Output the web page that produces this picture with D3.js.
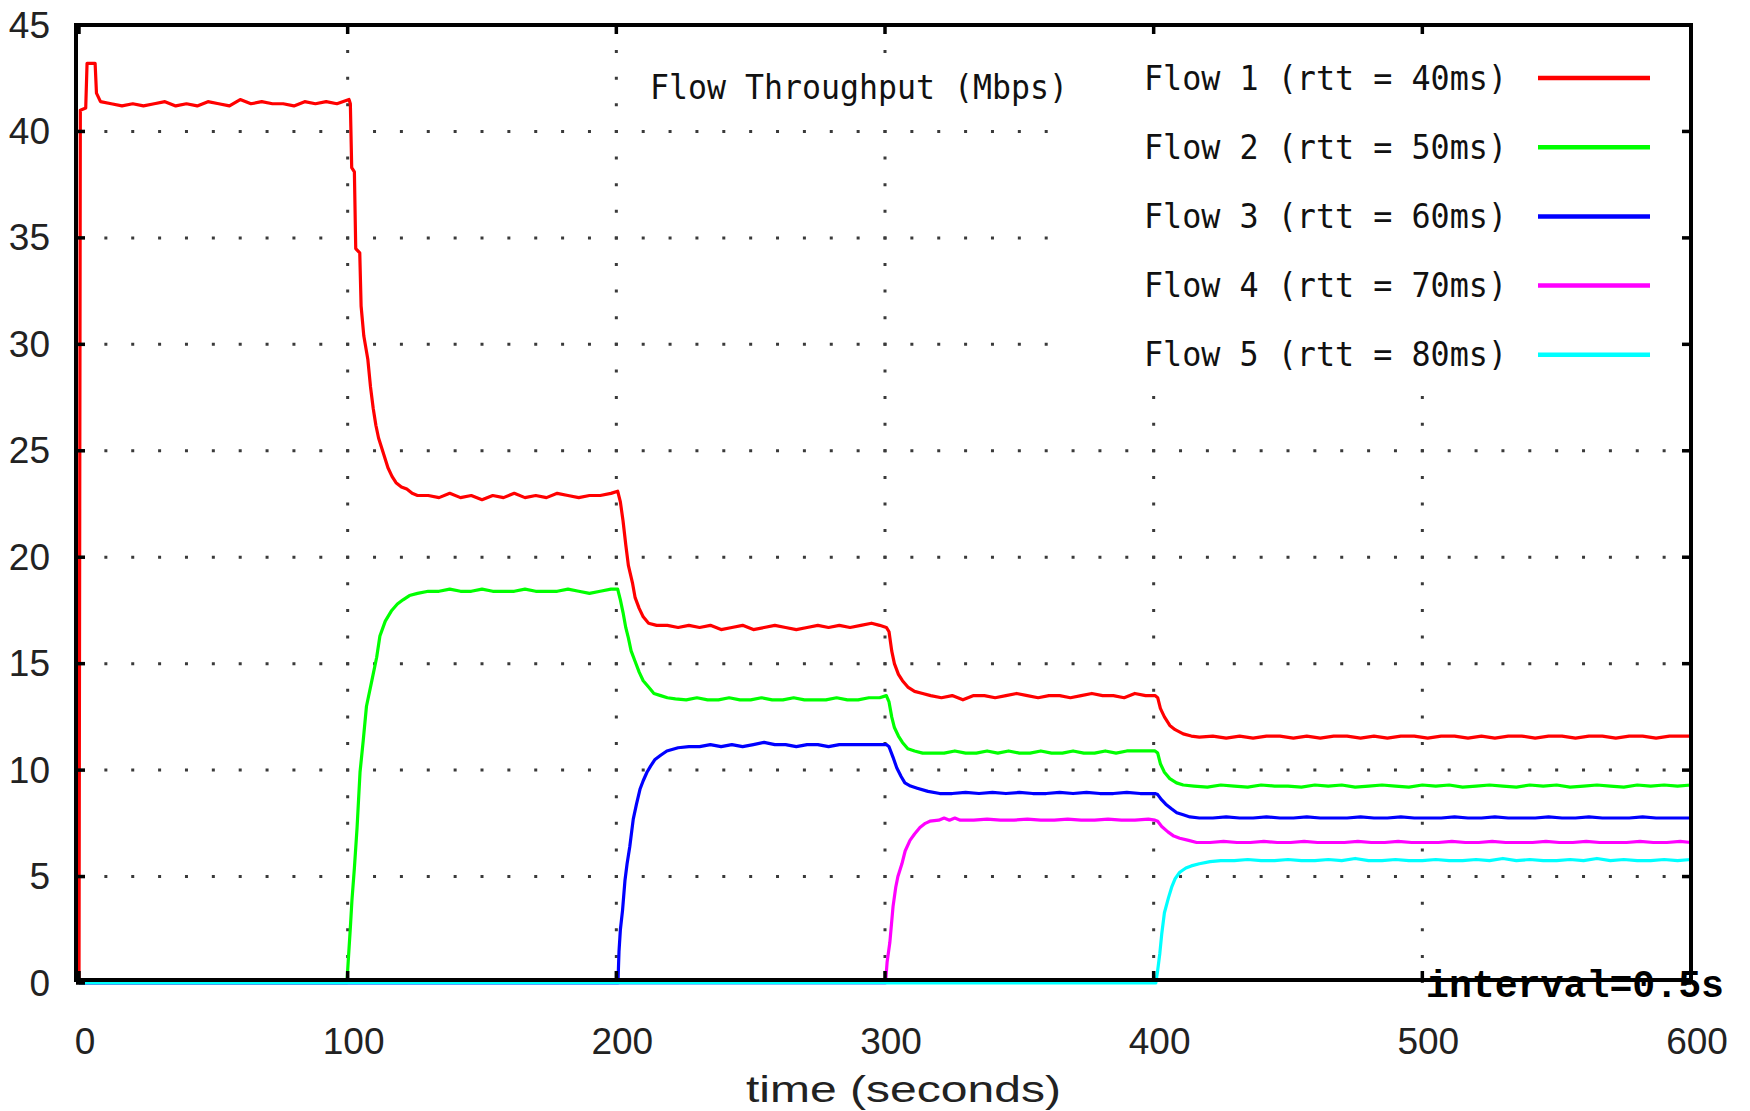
<!DOCTYPE html>
<html>
<head>
<meta charset="utf-8">
<script src="https://cdn.jsdelivr.net/npm/d3@7"></script>
<style>
  html, body { margin: 0; padding: 0; background: #fff; }
  svg { display: block; }
</style>
</head>
<body>
<svg id="chart" width="1750" height="1111"></svg>
<script>
// Per-flow throughput samples: [time (s), throughput (Mbps)]
const flow1 = [
  [0,0],[0.5,41.0],[2.5,41.1],[3,43.2],[6,43.2],[6.5,41.8],[8,41.4],
  [12,41.3],[16,41.2],[20,41.3],[24,41.2],[28,41.3],[32,41.4],[36,41.2],[40,41.3],[44,41.2],[48,41.4],
  [52,41.3],[56,41.2],[60,41.5],[64,41.3],[68,41.4],[72,41.3],[76,41.3],[80,41.2],[84,41.4],[88,41.3],
  [92,41.4],[96,41.3],[100.5,41.5],
  [101,41.3],[101.5,38.3],[102.5,38.1],[103,34.5],[104.5,34.3],[105,31.8],[106,30.4],[107.5,29.3],
  [108.5,28.0],[109.5,27.0],[110.5,26.2],[111.5,25.6],[112.5,25.2],[113.5,24.8],[115,24.2],[116.5,23.8],
  [118,23.5],[120,23.3],[122,23.2],[124,23.0],[126,22.9],
  [130,22.9],[134,22.8],[138,23.0],[142,22.8],[146,22.9],[150,22.7],[154,22.9],[158,22.8],[162,23.0],
  [166,22.8],[170,22.9],[174,22.8],[178,23.0],[182,22.9],[186,22.8],[190,22.9],[194,22.9],[198,23.0],[200.5,23.1],
  [201.5,22.6],[202.5,21.7],[203.5,20.6],[204.5,19.6],[206,18.8],[207,18.1],[208.5,17.6],[210,17.2],
  [212,16.9],[215,16.8],
  [219,16.8],[223,16.7],[227,16.8],[231,16.7],[235,16.8],[239,16.6],[243,16.7],[247,16.8],[251,16.6],
  [255,16.7],[259,16.8],[263,16.7],[267,16.6],[271,16.7],[275,16.8],[279,16.7],[283,16.8],[287,16.7],
  [291,16.8],[295,16.9],[298,16.8],[300.5,16.7],
  [301.5,16.5],[302.5,15.6],[303.5,15.0],[305,14.5],[306.5,14.2],[308.5,13.9],[311,13.7],[314,13.6],[317,13.5],
  [321,13.4],[325,13.5],[329,13.3],[333,13.5],[337,13.5],[341,13.4],[345,13.5],[349,13.6],[353,13.5],
  [357,13.4],[361,13.5],[365,13.5],[369,13.4],[373,13.5],[377,13.6],[381,13.5],[385,13.5],[389,13.4],
  [393,13.6],[397,13.5],[400.5,13.5],
  [401.5,13.4],[402.5,12.9],[404,12.5],[406,12.1],[408,11.9],[411,11.7],[414,11.6],[417,11.55],
  [422,11.6],[427,11.5],[432,11.6],[437,11.5],[442,11.6],[447,11.6],[452,11.5],[457,11.6],[462,11.5],
  [467,11.6],[472,11.6],[477,11.5],[482,11.6],[487,11.5],[492,11.6],[497,11.6],[502,11.5],[507,11.6],
  [512,11.6],[517,11.5],[522,11.6],[527,11.5],[532,11.6],[537,11.6],[542,11.5],[547,11.6],[552,11.6],
  [557,11.5],[562,11.6],[567,11.6],[572,11.5],[577,11.6],[582,11.6],[587,11.5],[592,11.6],[597,11.6],[600,11.6]
];

const flow2 = [
  [0,0],[99.7,0],[100.2,1.0],[101,2.6],[101.6,3.9],[102.5,5.4],[103.5,7.3],[104.6,9.9],[105.8,11.4],
  [107,13.0],[109,14.2],[110.8,15.3],[112,16.3],[114,17.0],[116.4,17.5],[118.5,17.8],[120.6,18.0],
  [123,18.2],[126,18.3],[130,18.4],
  [134,18.4],[138,18.5],[142,18.4],[146,18.4],[150,18.5],[154,18.4],[158,18.4],[162,18.4],[166,18.5],
  [170,18.4],[174,18.4],[178,18.4],[182,18.5],[186,18.4],[190,18.3],[194,18.4],[198,18.5],[200.5,18.5],
  [201.5,18.0],[202.5,17.4],[203.5,16.7],[204.5,16.2],[205.5,15.6],[207,15.1],[208.5,14.6],[210,14.2],
  [212,13.9],[214,13.6],[216.5,13.5],[219,13.4],[222,13.35],
  [226,13.3],[230,13.4],[234,13.3],[238,13.3],[242,13.4],[246,13.3],[250,13.3],[254,13.4],[258,13.3],
  [262,13.3],[266,13.4],[270,13.3],[274,13.3],[278,13.3],[282,13.4],[286,13.3],[290,13.3],[294,13.4],
  [298,13.4],[300.5,13.5],
  [301.5,13.2],[302.5,12.5],[303.5,12.0],[305,11.6],[306.5,11.3],[308.5,11.0],[311,10.9],[314,10.8],
  [318,10.8],[322,10.8],[326,10.9],[330,10.8],[334,10.8],[338,10.9],[342,10.8],[346,10.9],[350,10.8],
  [354,10.8],[358,10.9],[362,10.8],[366,10.8],[370,10.9],[374,10.8],[378,10.8],[382,10.9],[386,10.8],
  [390,10.9],[394,10.9],[398,10.9],[400.5,10.9],
  [401.5,10.8],[402.5,10.3],[404,9.9],[406,9.6],[408.5,9.4],[411,9.3],[415,9.25],
  [420,9.2],[425,9.3],[430,9.25],[435,9.2],[440,9.3],[445,9.25],[450,9.25],[455,9.2],[460,9.3],
  [465,9.25],[470,9.3],[475,9.2],[480,9.25],[485,9.3],[490,9.25],[495,9.2],[500,9.3],[505,9.25],
  [510,9.3],[515,9.2],[520,9.25],[525,9.3],[530,9.25],[535,9.2],[540,9.3],[545,9.25],[550,9.3],
  [555,9.2],[560,9.25],[565,9.3],[570,9.25],[575,9.2],[580,9.3],[585,9.25],[590,9.3],[595,9.25],[600,9.3]
];

const flow3 = [
  [0,0],[200.6,0],[201,1.5],[201.5,2.5],[202.3,3.4],[203.2,4.8],[204,5.6],[205,6.4],[206.3,7.7],
  [207.5,8.4],[208.8,9.1],[210,9.5],[211.4,9.9],[212.8,10.2],[214.4,10.5],[216.5,10.7],[218.8,10.9],
  [223,11.05],[227,11.1],
  [231,11.1],[235,11.2],[239,11.1],[243,11.2],[247,11.1],[251,11.2],[255,11.3],[259,11.2],[263,11.2],
  [267,11.1],[271,11.2],[275,11.2],[279,11.1],[283,11.2],[287,11.2],[291,11.2],[295,11.2],[300.5,11.2],
  [301.5,11.1],[303,10.6],[304.4,10.1],[306,9.7],[307.4,9.4],[309.5,9.25],[312,9.15],[316,9.0],[320.4,8.9],
  [325,8.9],[330,8.95],[335,8.9],[340,8.95],[345,8.9],[350,8.95],[355,8.9],[360,8.9],[365,8.95],
  [370,8.9],[375,8.95],[380,8.9],[385,8.9],[390,8.95],[395,8.9],[400.5,8.9],
  [401.5,8.85],[403,8.6],[404.5,8.4],[406.5,8.2],[408.6,8.0],[411,7.9],[413.5,7.8],[417,7.75],
  [422,7.75],[427,7.8],[432,7.75],[437,7.75],[442,7.8],[447,7.75],[452,7.75],[457,7.8],[462,7.75],
  [467,7.75],[472,7.75],[477,7.8],[482,7.75],[487,7.75],[492,7.8],[497,7.75],[502,7.75],[507,7.75],
  [512,7.8],[517,7.75],[522,7.75],[527,7.8],[532,7.75],[537,7.75],[542,7.75],[547,7.8],[552,7.75],
  [557,7.75],[562,7.8],[567,7.75],[572,7.75],[577,7.75],[582,7.8],[587,7.75],[592,7.75],[597,7.75],[600,7.75]
];

const flow4 = [
  [0,0],[300.2,0],[300.8,1.0],[301.8,1.9],[303,3.6],[304,4.5],[304.8,5.0],[306.3,5.6],[307.5,6.2],
  [309.3,6.7],[311,7.0],[313,7.3],[315,7.5],[316.7,7.6],[320,7.65],[322,7.75],[324,7.65],[326,7.75],
  [328,7.65],[333,7.65],[338,7.7],[343,7.65],[348,7.65],[353,7.7],[358,7.65],[363,7.65],[368,7.7],
  [373,7.65],[378,7.65],[383,7.7],[388,7.65],[393,7.65],[398,7.7],[400.5,7.65],
  [401.5,7.6],[403,7.35],[405.3,7.1],[407.5,6.9],[409.7,6.8],[413,6.7],[416,6.6],
  [421,6.6],[426,6.65],[431,6.6],[436,6.6],[441,6.65],[446,6.6],[451,6.6],[456,6.65],[461,6.6],
  [466,6.6],[471,6.6],[476,6.65],[481,6.6],[486,6.6],[491,6.65],[496,6.6],[501,6.6],[506,6.6],
  [511,6.65],[516,6.6],[521,6.6],[526,6.65],[531,6.6],[536,6.6],[541,6.6],[546,6.65],[551,6.6],
  [556,6.6],[561,6.65],[566,6.6],[571,6.6],[576,6.6],[581,6.65],[586,6.6],[591,6.6],[596,6.65],[600,6.6]
];

const flow5 = [
  [0,0],[400.8,0],[401.5,0.6],[402.3,1.4],[403,2.3],[404,3.3],[405.5,4.0],[406.7,4.5],[408,4.9],
  [409.7,5.2],[412,5.4],[414,5.5],[417,5.6],[421,5.7],[425,5.75],
  [430,5.75],[435,5.8],[440,5.75],[445,5.75],[450,5.8],[455,5.75],[460,5.75],[465,5.8],[470,5.75],
  [475,5.85],[480,5.75],[485,5.75],[490,5.8],[495,5.75],[500,5.75],[505,5.8],[510,5.75],[515,5.75],
  [520,5.8],[525,5.75],[530,5.85],[535,5.75],[540,5.8],[545,5.75],[550,5.75],[555,5.8],[560,5.75],
  [565,5.85],[570,5.75],[575,5.8],[580,5.75],[585,5.75],[590,5.8],[595,5.75],[600,5.8]
];

const seriesData = [flow1, flow2, flow3, flow4, flow5];
const seriesNames = [
  "Flow 1 (rtt = 40ms)",
  "Flow 2 (rtt = 50ms)",
  "Flow 3 (rtt = 60ms)",
  "Flow 4 (rtt = 70ms)",
  "Flow 5 (rtt = 80ms)"
];
const seriesColors = ["#ff0000", "#00ff00", "#0000ff", "#ff00ff", "#00ffff"];

const xTicks = [0, 100, 200, 300, 400, 500, 600];
const yTicks = [0, 5, 10, 15, 20, 25, 30, 35, 40, 45];

const chartTitle = "Flow Throughput (Mbps)";
const xAxisTitle = "time (seconds)";
const intervalNote = "interval=0.5s";

// ---- layout ----
const svg = d3.select("#chart");
const x = d3.scaleLinear().domain([0, 600]).range([79, 1691]);
const y = d3.scaleLinear().domain([0, 45]).range([983, 25]);

svg.append("rect").attr("width", 1750).attr("height", 1111).attr("fill", "#fff");

// ---- dotted grid ----
const grid = svg.append("g").attr("stroke", "#3a3a3a").attr("stroke-width", 3);
const xStep = x(10) - x(0);          // dot spacing along horizontal grid lines
const yStep = y(0) - y(1.25);        // dot spacing along vertical grid lines
grid.selectAll("line.h")
  .data(yTicks.filter(v => v > 0 && v < 45))
  .join("line")
  .attr("x1", x(0)).attr("x2", x(600))
  .attr("y1", d => y(d)).attr("y2", d => y(d))
  .attr("stroke-dasharray", `3 ${xStep - 3}`)
  .attr("stroke-dashoffset", 1.5);
grid.selectAll("line.v")
  .data(xTicks.filter(t => t > 0 && t < 600))
  .join("line")
  .attr("x1", d => x(d)).attr("x2", d => x(d))
  .attr("y1", y(0)).attr("y2", y(45))
  .attr("stroke-dasharray", `3 ${yStep - 3}`)
  .attr("stroke-dashoffset", 1.5);

// opaque areas behind the key and the plot title
svg.append("rect").attr("x", 1050).attr("y", y(45) + 2).attr("width", x(600) - 1050).attr("height", 388 - y(45))
  .attr("fill", "#fff");
svg.append("rect").attr("x", 640).attr("y", 62).attr("width", 440).attr("height", 52).attr("fill", "#fff");

// ---- data lines ----
const line = d3.line().x(d => x(d[0])).y(d => y(d[1]));
const plot = svg.append("g");
seriesData.forEach((s, i) => {
  plot.append("path")
    .datum(s)
    .attr("d", line)
    .attr("fill", "none")
    .attr("stroke", seriesColors[i])
    .attr("stroke-width", 3.2)
    .attr("stroke-linejoin", "round");
});

// ---- border and inward ticks ----
const frame = svg.append("g").attr("stroke", "#000").attr("fill", "none");
const bx0 = x(0) - 3, bx1 = x(600), by0 = y(0) - 3, by1 = y(45);
frame.append("rect")
  .attr("x", bx0).attr("y", by1)
  .attr("width", bx1 - bx0).attr("height", by0 - by1)
  .attr("stroke-width", 4);
const tickLen = 9;
xTicks.forEach(t => {
  frame.append("line").attr("x1", x(t)).attr("x2", x(t)).attr("y1", by0).attr("y2", by0 - tickLen).attr("stroke-width", 3.5);
  frame.append("line").attr("x1", x(t)).attr("x2", x(t)).attr("y1", by1).attr("y2", by1 + tickLen).attr("stroke-width", 3.5);
});
yTicks.forEach(v => {
  frame.append("line").attr("x1", bx0).attr("x2", bx0 + tickLen).attr("y1", y(v)).attr("y2", y(v)).attr("stroke-width", 3.5);
  frame.append("line").attr("x1", bx1).attr("x2", bx1 - tickLen).attr("y1", y(v)).attr("y2", y(v)).attr("stroke-width", 3.5);
});

// ---- tick labels ----
const tickFont = "'Liberation Sans', Arimo, sans-serif";
svg.append("g").selectAll("text")
  .data(yTicks)
  .join("text")
  .attr("x", 50).attr("y", d => y(d))
  .attr("text-anchor", "end").attr("dominant-baseline", "central")
  .attr("font-family", tickFont).attr("font-size", 37).attr("fill", "#222")
  .text(d => d);
svg.append("g").selectAll("text")
  .data(xTicks)
  .join("text")
  .attr("x", d => x(d) + 6).attr("y", 1041)
  .attr("text-anchor", "middle").attr("dominant-baseline", "central")
  .attr("font-family", tickFont).attr("font-size", 37).attr("fill", "#222")
  .text(d => d);

svg.append("text")
  .attr("x", 903 - 157).attr("y", 1089)
  .attr("dominant-baseline", "central")
  .attr("font-family", tickFont).attr("font-size", 37).attr("fill", "#222")
  .attr("textLength", 315).attr("lengthAdjust", "spacingAndGlyphs")
  .text(xAxisTitle);

// ---- title and key ----
const monoFont = "'DejaVu Sans Mono', 'Liberation Mono', monospace";
svg.append("text")
  .attr("x", 650).attr("y", 87)
  .attr("dominant-baseline", "central")
  .attr("font-family", monoFont).attr("font-size", 33).attr("fill", "#111")
  .attr("textLength", 418).attr("lengthAdjust", "spacingAndGlyphs")
  .text(chartTitle);

const key = svg.append("g");
seriesNames.forEach((name, i) => {
  const ky = 78 + i * 69.2;
  key.append("text")
    .attr("x", 1144).attr("y", ky)
    .attr("dominant-baseline", "central")
    .attr("font-family", monoFont).attr("font-size", 33).attr("fill", "#111")
    .attr("textLength", 363).attr("lengthAdjust", "spacingAndGlyphs")
    .text(name);
  key.append("line")
    .attr("x1", 1538).attr("x2", 1650).attr("y1", ky).attr("y2", ky)
    .attr("stroke", seriesColors[i]).attr("stroke-width", 4.5);
});

// sampling interval note, drawn over the lower-right border
svg.append("text")
  .attr("x", 1426).attr("y", 986)
  .attr("dominant-baseline", "central")
  .attr("font-family", "'Liberation Mono', 'DejaVu Sans Mono', monospace")
  .attr("font-size", 38).attr("font-weight", "bold").attr("fill", "#000")
  .attr("textLength", 298).attr("lengthAdjust", "spacingAndGlyphs")
  .text(intervalNote);
</script>
</body>
</html>
